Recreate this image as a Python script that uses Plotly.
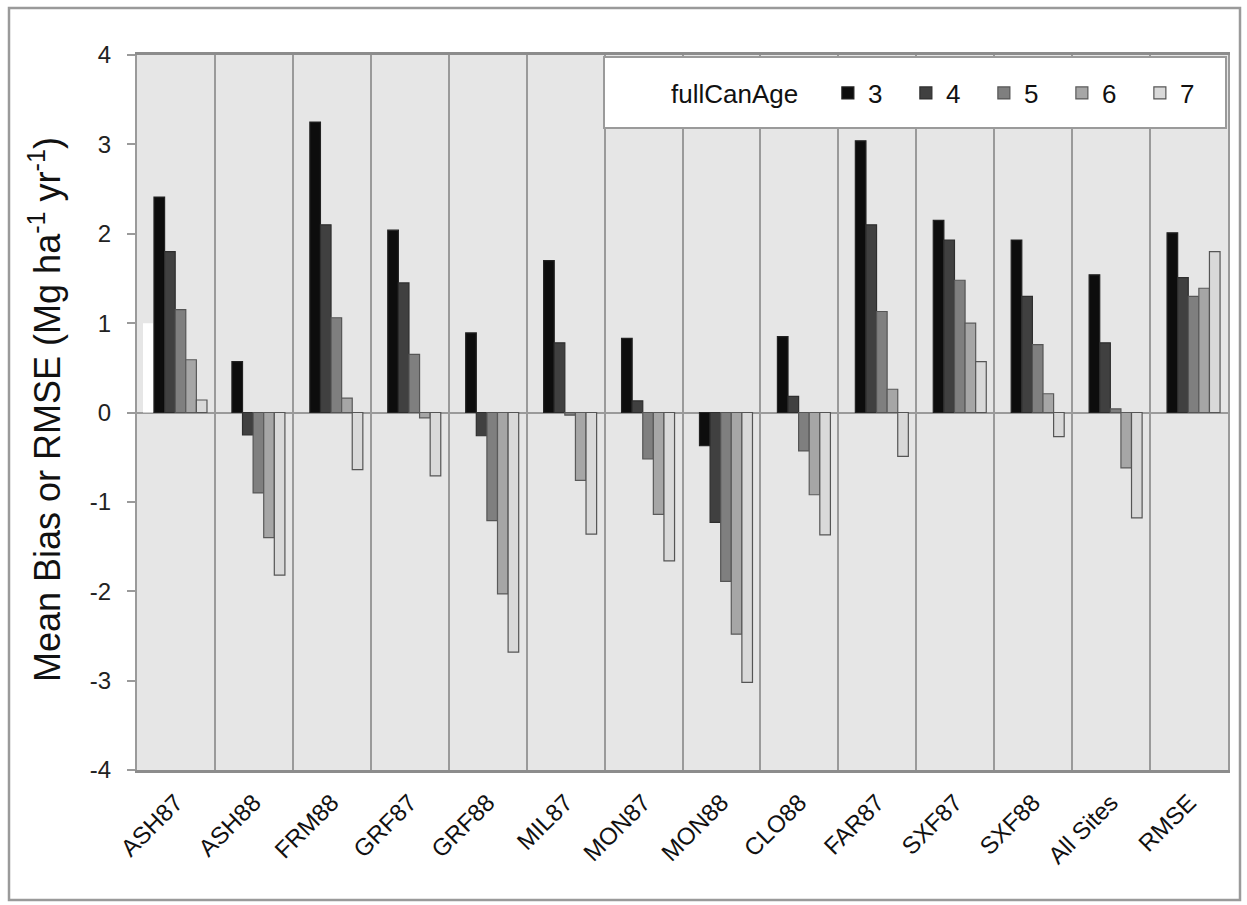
import plotly.graph_objects as go

categories = ["ASH87", "ASH88", "FRM88", "GRF87", "GRF88", "MIL87", "MON87",
              "MON88", "CLO88", "FAR87", "SXF87", "SXF88", "All Sites", "RMSE"]
series_names = ["3", "4", "5", "6", "7"]
age3 = [2.41, 0.57, 3.25, 2.04, 0.89, 1.70, 0.83, -0.37, 0.85, 3.04, 2.15, 1.93, 1.54, 2.01]
age4 = [1.80, -0.25, 2.10, 1.45, -0.26, 0.78, 0.13, -1.23, 0.18, 2.10, 1.93, 1.30, 0.78, 1.51]
age5 = [1.15, -0.90, 1.06, 0.65, -1.21, -0.03, -0.52, -1.89, -0.43, 1.13, 1.48, 0.76, 0.04, 1.30]
age6 = [0.59, -1.40, 0.16, -0.06, -2.03, -0.76, -1.14, -2.48, -0.92, 0.26, 1.00, 0.21, -0.62, 1.39]
age7 = [0.14, -1.82, -0.64, -0.71, -2.68, -1.36, -1.66, -3.02, -1.37, -0.49, 0.57, -0.27, -1.18, 1.80]
series_values = [age3, age4, age5, age6, age7]
# stray white block visible in the source image (first category only)
artifact_cats = ["ASH87"]
artifact_vals = [1.0]
y_ticks = [-4, -3, -2, -1, 0, 1, 2, 3, 4]
y_tick_text = [str(v) for v in y_ticks]

colors = ["#0d0d0d", "#404040", "#7f7f7f", "#a6a6a6", "#d9d9d9"]
line_colors = ["#222222", "#2e2e2e", "#555555", "#5a5a5a", "#555555"]
FONT = "Liberation Sans, Arial, sans-serif"

W, H = 1247, 905
L, R, T, B = 137, 1228, 55, 770
pw, ph = R - L, B - T

def px_x(p):
    return (p - L) / pw

def px_y(p):
    return (B - p) / ph

bar_w = 0.136
start = -0.282

fig = go.Figure()
fig.add_trace(go.Bar(x=artifact_cats, y=artifact_vals, width=0.128, offset=-0.423,
                     marker=dict(color="white", line=dict(width=0)),
                     showlegend=False, hoverinfo="skip"))
for i, (name, vals) in enumerate(zip(series_names, series_values)):
    fig.add_trace(go.Bar(
        x=categories, y=vals, name=name,
        width=bar_w, offset=start + i * bar_w,
        marker=dict(color=colors[i], line=dict(color=line_colors[i], width=1.2)),
    ))

fig.update_layout(
    width=W, height=H,
    margin=dict(l=L, r=W - R, t=T, b=H - B, autoexpand=False),
    paper_bgcolor="white",
    plot_bgcolor="#e6e6e6",
    barmode="overlay",
    font=dict(family=FONT, size=24, color="#111111"),
    showlegend=True,
    legend=dict(
        orientation="h",
        x=px_x(669), xanchor="left",
        y=px_y(93), yanchor="middle",
        bgcolor="rgba(0,0,0,0)",
        borderwidth=0,
        font=dict(family=FONT, size=26, color="#111111"),
        title=dict(text="fullCanAge\u00a0\u00a0\u00a0", font=dict(family=FONT, size=26, color="#111111")),
        entrywidth=33,
        traceorder="normal",
    ),
    xaxis=dict(
        type="category",
        categoryorder="array", categoryarray=categories,
        range=[-0.5, len(categories) - 0.5],
        tickson="boundaries",
        showgrid=True, gridcolor="#9a9a9a", gridwidth=2,
        ticks="", tickangle=-45,
        ticklabelstandoff=6,
        tickfont=dict(family=FONT, size=24, color="#111111"),
        showline=True, linecolor="#8c8c8c", linewidth=3, mirror=True,
    ),
    yaxis=dict(
        range=[-4, 4],
        tickvals=y_ticks, ticktext=y_tick_text,
        ticks="outside", ticklen=8, tickcolor="#9a9a9a", tickwidth=2,
        ticklabelstandoff=11,
        showgrid=False,
        zeroline=True, zerolinecolor="#9a9a9a", zerolinewidth=2,
        showline=True, linecolor="#9a9a9a", linewidth=2, mirror=True,
        tickfont=dict(family=FONT, size=24, color="#222222"),
    ),
    shapes=[
        dict(type="rect", xref="paper", yref="paper",
             x0=px_x(604), x1=px_x(1226), y0=px_y(128), y1=px_y(57),
             fillcolor="white", line=dict(color="#9a9a9a", width=2), layer="above"),
        dict(type="rect", xref="paper", yref="paper",
             x0=px_x(9), x1=px_x(1240), y0=px_y(900), y1=px_y(8),
             fillcolor="rgba(0,0,0,0)", line=dict(color="#9a9a9a", width=2.5), layer="above"),
    ],
    annotations=[
        dict(text="Mean Bias or RMSE (Mg ha<sup>-1</sup> yr<sup>-1</sup>)",
             xref="paper", yref="paper", x=px_x(45), y=px_y(410),
             xanchor="center", yanchor="middle", textangle=-90, showarrow=False,
             font=dict(family=FONT, size=36, color="#111111")),
    ],
)

fig.write_html("out.html", config={"displayModeBar": False},
               post_script="document.body.style.margin='0px';")
